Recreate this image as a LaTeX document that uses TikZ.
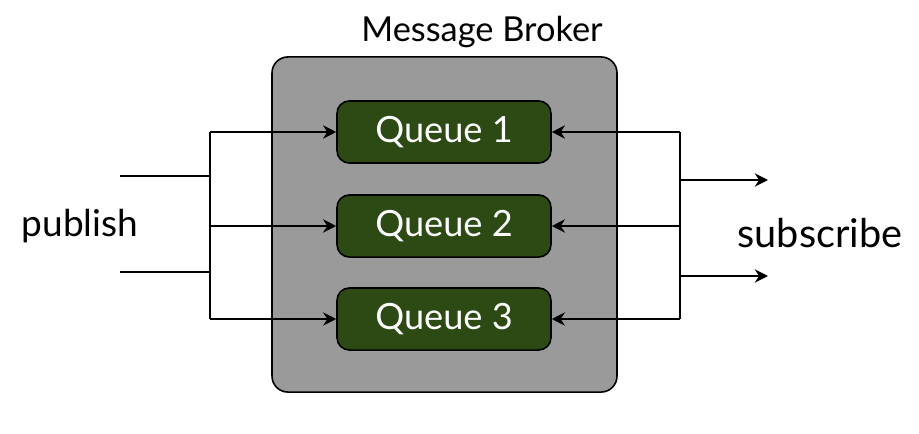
\documentclass[tikz,border=0pt]{standalone}
\usepackage{fontspec}
\setmainfont{Lato}
\usetikzlibrary{arrows.meta}
\definecolor{brokergray}{HTML}{9A9A9A}
\definecolor{queuegreen}{HTML}{2D4A14}
\tikzset{
  broker/.style={draw,line width=0.9pt,fill=brokergray,rounded corners=9pt,minimum width=195.6pt,minimum height=190pt},
  queue/.style={draw,line width=0.9pt,fill=queuegreen,rounded corners=7pt,minimum width=121.3pt,minimum height=35.2pt,text=white,font=\fontsize{20.5}{24}\selectfont},
  wire/.style={line width=1.35pt},
  flow/.style={wire,-{Stealth[length=7.5pt,width=7.5pt,inset=2.5pt]}},
  lbl/.style={font=\fontsize{21}{25}\selectfont}
}
\begin{document}
\begin{tikzpicture}[x=0.567pt,y=-0.567pt]
\useasboundingbox (0,0) rectangle (919,434);
\node[broker](broker) at (444.5,224.5){};
\node[font=\fontsize{19.5}{23}\selectfont](title) at (482,32){Message Broker};
\node[queue](q1) at (444,132){Queue 1};
\node[queue](q2) at (444,226){Queue 2};
\node[queue](q3) at (444,319){Queue 3};
\node[lbl](pub) at (80,226){publish};
\node[lbl,font=\fontsize{22.5}{26}\selectfont](sub) at (820,233){subscribe};
% publisher side
\coordinate(pa) at (120,176);
\coordinate(pb) at (120,272);
\coordinate(lx) at (210,0);
\draw[wire](q1.west -| lx)--(q3.west -| lx);
\draw[wire](pa)--(pa -| lx);
\draw[wire](pb)--(pb -| lx);
\foreach \i in {1,2,3}{\draw[flow](q\i.west -| lx)--(q\i.west);}
% subscriber side
\coordinate(rx) at (680,0);
\coordinate(sa) at (768,180);
\coordinate(sb) at (768,276);
\draw[wire](q1.east -| rx)--(q3.east -| rx);
\foreach \i in {1,2,3}{\draw[flow](q\i.east -| rx)--(q\i.east);}
\draw[flow](sa -| rx)--(sa);
\draw[flow](sb -| rx)--(sb);
\end{tikzpicture}
\end{document}
